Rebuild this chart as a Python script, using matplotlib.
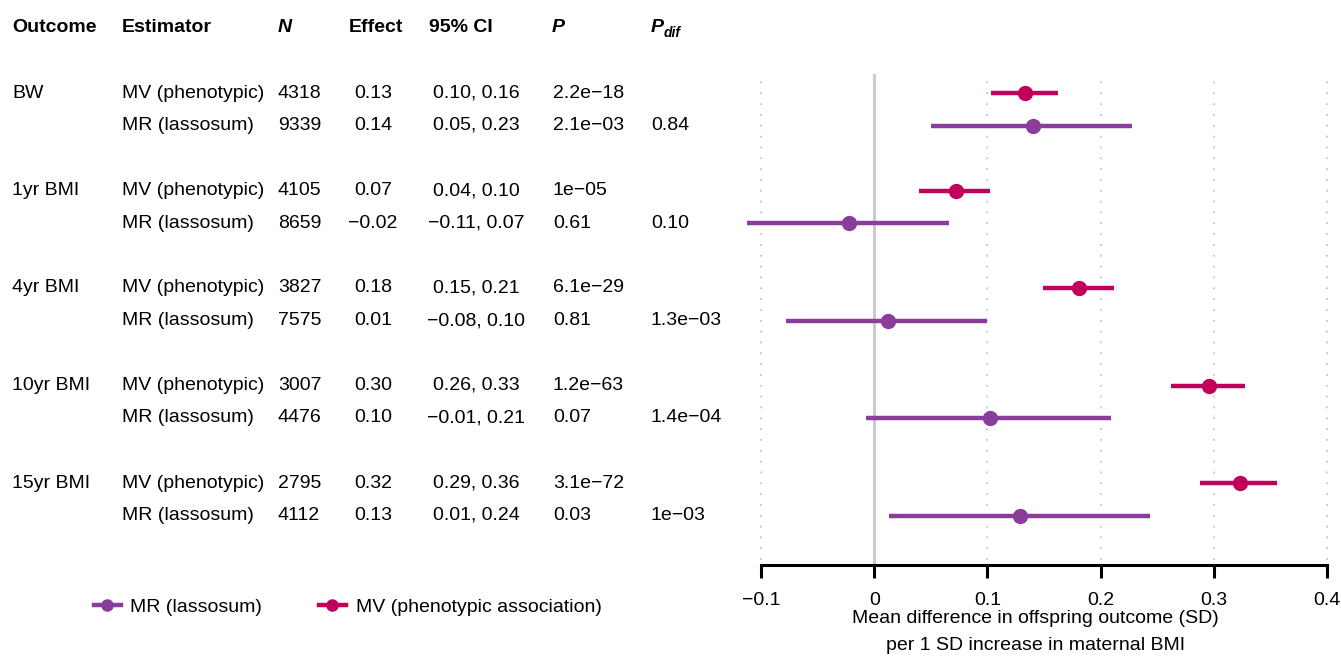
import matplotlib
matplotlib.use("Agg")
import matplotlib.pyplot as plt
from matplotlib.lines import Line2D

plt.rcParams['font.family'] = ['Liberation Sans', 'DejaVu Sans']

# data
outcomes = ["BW", "1yr BMI", "4yr BMI", "10yr BMI", "15yr BMI"]
estimators = ["MV (phenotypic)", "MR (lassosum)"]
n_mv = [4318, 4105, 3827, 3007, 2795]
n_mr = [9339, 8659, 7575, 4476, 4112]
mv_est = [0.133, 0.072, 0.181, 0.296, 0.323]
mv_lo = [0.103, 0.040, 0.149, 0.262, 0.288]
mv_hi = [0.162, 0.102, 0.212, 0.328, 0.356]
mr_est = [0.140, -0.022, 0.012, 0.102, 0.129]
mr_lo = [0.050, -0.112, -0.078, -0.007, 0.013]
mr_hi = [0.228, 0.066, 0.100, 0.209, 0.244]
p_mv = ["2.2e\u221218", "1e\u221205", "6.1e\u221229", "1.2e\u221263", "3.1e\u221272"]
p_mr = ["2.1e\u221203", "0.61", "0.81", "0.07", "0.03"]
p_dif = ["0.84", "0.10", "1.3e\u221203", "1.4e\u221204", "1e\u221203"]
xticks = [-0.1, 0, 0.1, 0.2, 0.3, 0.4]

MV_COL = "#c0005a"
MR_COL = "#8a3d9a"
FS = 14


def fmt(v):
    return "{:.2f}".format(v).replace("-", "\u2212")


def row_y(g, r):
    # pixel-like row positions shared by table and forest panel
    return 93 + g * 97.5 + r * 32.5


W, H = 1341, 657
fig = plt.figure(figsize=(W / 100, H / 100), dpi=100)

# table panel
tab = fig.add_axes([0, 0, 1, 1])
tab.set_xlim(0, W)
tab.set_ylim(H, 0)
tab.axis("off")

hy = 27
tab.text(12, hy, "Outcome", fontsize=FS, fontweight="bold", va="center")
tab.text(122, hy, "Estimator", fontsize=FS, fontweight="bold", va="center")
tab.text(278, hy, "N", fontsize=FS, fontweight="bold", fontstyle="italic", va="center")
tab.text(349, hy, "Effect", fontsize=FS, fontweight="bold", va="center")
tab.text(429, hy, "95% CI", fontsize=FS, fontweight="bold", va="center")
tab.text(552, hy, "P", fontsize=FS, fontweight="bold", fontstyle="italic", va="center")
tab.text(651, hy, "P", fontsize=FS, fontweight="bold", fontstyle="italic", va="center")
tab.text(664, hy + 6, "dif", fontsize=10, fontweight="bold", fontstyle="italic", va="center")

for g, name in enumerate(outcomes):
    y0, y1 = row_y(g, 0), row_y(g, 1)
    tab.text(12, y0, name, fontsize=FS, va="center")
    rows = [(y0, estimators[0], n_mv[g], mv_est[g], mv_lo[g], mv_hi[g], p_mv[g], ""),
            (y1, estimators[1], n_mr[g], mr_est[g], mr_lo[g], mr_hi[g], p_mr[g], p_dif[g])]
    for y, est, n, e, lo, hi, p, pd in rows:
        tab.text(122, y, est, fontsize=FS, va="center")
        tab.text(278, y, str(n), fontsize=FS, va="center")
        tab.text(373, y, fmt(e), fontsize=FS, va="center", ha="center")
        tab.text(476, y, fmt(lo) + ", " + fmt(hi), fontsize=FS, va="center", ha="center")
        tab.text(553, y, p, fontsize=FS, va="center")
        tab.text(651, y, pd, fontsize=FS, va="center")

# forest panel
px_per_unit = 1132.0
left_px, right_px, top_px, bot_px = 730, 1341, 60, 565
x_left = -0.1 - (761 - left_px) / px_per_unit
x_right = 0.4 + (right_px - 1327) / px_per_unit
ax = fig.add_axes([left_px / W, (H - bot_px) / H, (right_px - left_px) / W, (bot_px - top_px) / H])
ax.set_xlim(x_left, x_right)
ax.set_ylim(bot_px, top_px)
ax.patch.set_alpha(0)

top_frac = (bot_px - 75) / (bot_px - top_px)
for t in xticks:
    if t == 0:
        ax.axvline(t, ymin=0, ymax=top_frac, color="#cccccc", lw=2.2, zorder=1)
    else:
        ax.axvline(t, ymin=0.01, ymax=top_frac, color="#c4c4c4", lw=1.3,
                   ls=(0, (1, 5)), zorder=1)

ys_mv = [row_y(g, 0) for g in range(len(outcomes))]
ys_mr = [row_y(g, 1) for g in range(len(outcomes))]
ax.hlines(ys_mv, mv_lo, mv_hi, color=MV_COL, lw=3.2, zorder=3)
ax.plot(mv_est, ys_mv, "o", color=MV_COL, ms=10, zorder=4)
ax.hlines(ys_mr, mr_lo, mr_hi, color=MR_COL, lw=3.2, zorder=3)
ax.plot(mr_est, ys_mr, "o", color=MR_COL, ms=10, zorder=4)

for s in ["top", "right", "left"]:
    ax.spines[s].set_visible(False)
ax.spines["bottom"].set_bounds(-0.1, 0.4)
ax.spines["bottom"].set_linewidth(2.2)
ax.set_yticks([])
ax.set_xticks(xticks)
ax.set_xticklabels(["\u22120.1", "0", "0.1", "0.2", "0.3", "0.4"])
ax.tick_params(axis="x", direction="out", length=9.5, width=2.2, labelsize=FS, pad=10)
ax.set_xlabel("Mean difference in offspring outcome (SD)\nper 1 SD increase in maternal BMI",
              fontsize=FS, linespacing=1.75, labelpad=1)

# legend
handles = [Line2D([], [], color=MR_COL, lw=3.2, marker="o", ms=8),
           Line2D([], [], color=MV_COL, lw=3.2, marker="o", ms=8)]
fig.legend(handles, ["MR (lassosum)", "MV (phenotypic association)"],
           loc="center left", bbox_to_anchor=(76 / W, (H - 607) / H), ncol=2,
           frameon=False, fontsize=FS, handlelength=1.4, handletextpad=0.5,
           columnspacing=2.9)

fig.savefig("out.png", dpi=100)
